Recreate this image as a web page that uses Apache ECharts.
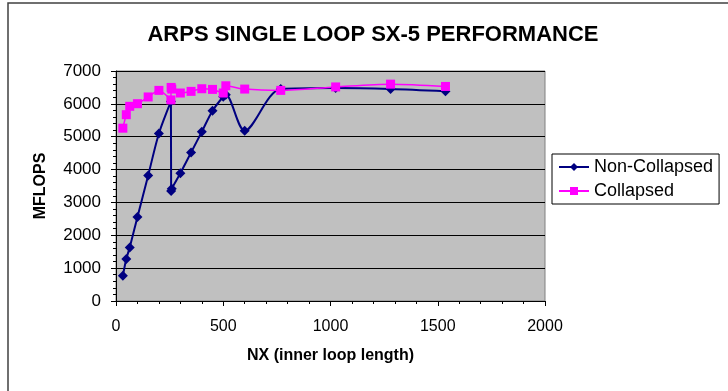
<!DOCTYPE html>
<html>
    <head>
        <meta charset="utf-8">
        <title>ARPS SX-5</title>
        <script src="https://cdn.jsdelivr.net/npm/echarts@6/dist/echarts.min.js"></script>
        <style>
            body { margin: 0; background: #fff; }
        </style>
    </head>
    <body>
        <div id="main" style="width: 728px;height: 391px;"></div>
        <script>
            // inner loop length (NX) and measured MFLOPS
            var nx = [32, 48, 64, 100, 150, 200, 256, 257, 260, 300, 350, 400, 450, 500, 512, 600, 768, 1024, 1280, 1536];
            var nonCollapsed = [770, 1280, 1630, 2560, 3820, 5100, 6070, 3350, 3420, 3890, 4520, 5150, 5790, 6220, 6280, 5180, 6450, 6480, 6450, 6380];
            var collapsed = [5260, 5670, 5925, 6005, 6210, 6410, 6120, 6500, 6450, 6330, 6380, 6460, 6440, 6330, 6550, 6450, 6410, 6515, 6600, 6530];
            var xTicks = [0, 500, 1000, 1500, 2000];
            var yTicks = [0, 1000, 2000, 3000, 4000, 5000, 6000, 7000];

            function pairs(xs, ys) {
                var out = [];
                for (var i = 0; i < xs.length; i++) out.push([xs[i], ys[i]]);
                return out;
            }

            var font = 'Liberation Sans, Arial, sans-serif';
            var plain = function (v) { return String(v); };
            var chart = echarts.init(document.getElementById('main'));
            chart.setOption({
                animation: false,
                textStyle: { fontFamily: font },
                graphic: [{
                    type: 'rect',
                    shape: { x: 8, y: 3, width: 900, height: 600 },
                    style: { fill: null, stroke: '#404040', lineWidth: 1.5 },
                    silent: true
                }],
                title: {
                    text: 'ARPS SINGLE LOOP SX-5 PERFORMANCE',
                    left: 368,
                    top: 19,
                    textAlign: 'center',
                    textStyle: { fontSize: 22, fontWeight: 'bold', color: '#000', fontFamily: font }
                },
                legend: {
                    orient: 'vertical',
                    left: 552,
                    top: 154,
                    width: 172,
                    padding: [4, 6, 4, 6],
                    itemGap: 6,
                    itemWidth: 30,
                    itemHeight: 10,
                    borderColor: '#000',
                    borderWidth: 1,
                    textStyle: { fontSize: 18, color: '#000', fontFamily: font },
                    data: ['Non-Collapsed', 'Collapsed']
                },
                grid: {
                    left: 116,
                    right: 183,
                    top: 71,
                    bottom: 90,
                    show: true,
                    backgroundColor: '#c0c0c0',
                    borderColor: '#808080',
                    borderWidth: 1
                },
                xAxis: {
                    type: 'value',
                    min: xTicks[0],
                    max: xTicks[xTicks.length - 1],
                    interval: 500,
                    name: 'NX (inner loop length)',
                    nameLocation: 'middle',
                    nameGap: 47,
                    nameTextStyle: { fontSize: 16, fontWeight: 'bold', color: '#000', fontFamily: font },
                    axisLine: { onZero: false, lineStyle: { color: '#000', width: 1 } },
                    axisTick: { length: 5, lineStyle: { color: '#000' } },
                    minorTick: { show: true, splitNumber: 5, length: 3, lineStyle: { color: '#000' } },
                    axisLabel: { fontSize: 16, color: '#000', margin: 18, fontFamily: font, formatter: plain },
                    splitLine: { show: false }
                },
                yAxis: {
                    type: 'value',
                    min: yTicks[0],
                    max: yTicks[yTicks.length - 1],
                    interval: 1000,
                    name: 'MFLOPS',
                    nameLocation: 'middle',
                    nameGap: 67,
                    nameTextStyle: { fontSize: 16, fontWeight: 'bold', color: '#000', fontFamily: font },
                    axisLine: { show: true, onZero: false, lineStyle: { color: '#000', width: 1 } },
                    axisTick: { show: true, length: 5, lineStyle: { color: '#000' } },
                    minorTick: { show: true, splitNumber: 5, length: 3, lineStyle: { color: '#000' } },
                    axisLabel: { fontSize: 17, color: '#000', margin: 15, fontFamily: font, formatter: plain },
                    splitLine: { show: true, lineStyle: { color: '#000', width: 1 } }
                },
                series: [
                    {
                        name: 'Non-Collapsed',
                        type: 'line',
                        data: pairs(nx, nonCollapsed),
                        smooth: 0.3,
                        symbol: 'diamond',
                        symbolSize: 10,
                        itemStyle: { color: '#000080' },
                        lineStyle: { color: '#000080', width: 2 }
                    },
                    {
                        name: 'Collapsed',
                        type: 'line',
                        data: pairs(nx, collapsed),
                        smooth: 0.3,
                        symbol: 'rect',
                        symbolSize: 9,
                        itemStyle: { color: '#ff00ff' },
                        lineStyle: { color: '#ff00ff', width: 1.5 }
                    }
                ]
            });
        </script>
    </body>
</html>
